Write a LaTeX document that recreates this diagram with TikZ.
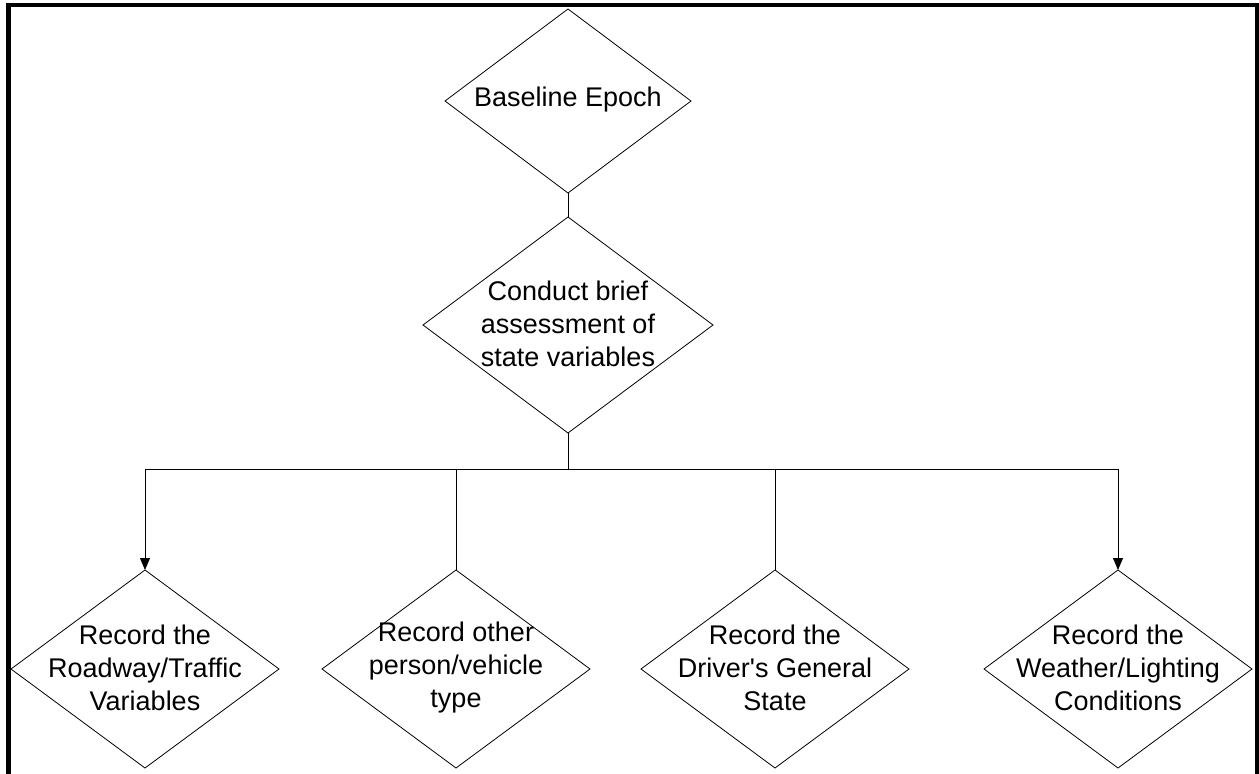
\documentclass[tikz,border=0pt]{standalone}
\usepackage{fontspec}
\setmainfont{Liberation Sans}
\usetikzlibrary{shapes.geometric,arrows.meta}

\tikzset{
  dia/.style={draw, shape=diamond, inner sep=0pt, outer sep=0pt,
              line width=0.8pt, minimum width=#1},
  lbl/.style={align=center, inner sep=0pt,
              font=\fontsize{27}{33}\selectfont},
  conn/.style={line width=0.8pt},
  arr/.style={conn, -{Triangle[width=10pt,length=12pt]}},
  frame/.style={line width=4.5pt, line join=miter}
}

\begin{document}
\begin{tikzpicture}[x=1pt, y=-1pt]
  \useasboundingbox (0,0) rectangle (1259,774);

  % outer frame (open at the bottom)
  \draw[frame] (8.5,774) -- (8.5,5) -- (1257,5) -- (1257,774);

  % top decision chain
  \node[dia=246pt, minimum height=184pt] (base) at (568,101) {};
  \node[lbl] (baset) at (568,100) {Baseline Epoch};

  \node[dia=290pt, minimum height=216pt] (cond) at (568,325) {};
  \node[lbl] (condt) at (568,324) {Conduct brief\\assessment of\\state variables};

  % recording steps
  \node[dia=268pt, minimum height=198pt] (road) at (145,669) {};
  \node[lbl] (roadt) at (145,668) {Record the\\Roadway/Traffic\\Variables};

  \node[dia=268pt, minimum height=198pt] (other) at (456,669) {};
  \node[lbl] (othert) at (456,668) {Record other\\person/vehicle\\type};

  \node[dia=268pt, minimum height=198pt] (driver) at (775,669) {};
  \node[lbl] (drivert) at (775,668) {Record the\\Driver\textquotesingle s General\\State};

  \node[dia=268pt, minimum height=198pt] (weather) at (1118,669) {};
  \node[lbl] (weathert) at (1118,668) {Record the\\Weather/Lighting\\Conditions};

  % connectors
  \coordinate (split) at (568,469);
  \draw[conn] (base.south) -- (cond.north);
  \draw[conn] (cond.south) -- (split);
  \draw[arr] (split) -| (road.north);
  \draw[conn] (split) -| (other.north);
  \draw[conn] (split) -| (driver.north);
  \draw[arr] (split) -| (weather.north);
\end{tikzpicture}
\end{document}
